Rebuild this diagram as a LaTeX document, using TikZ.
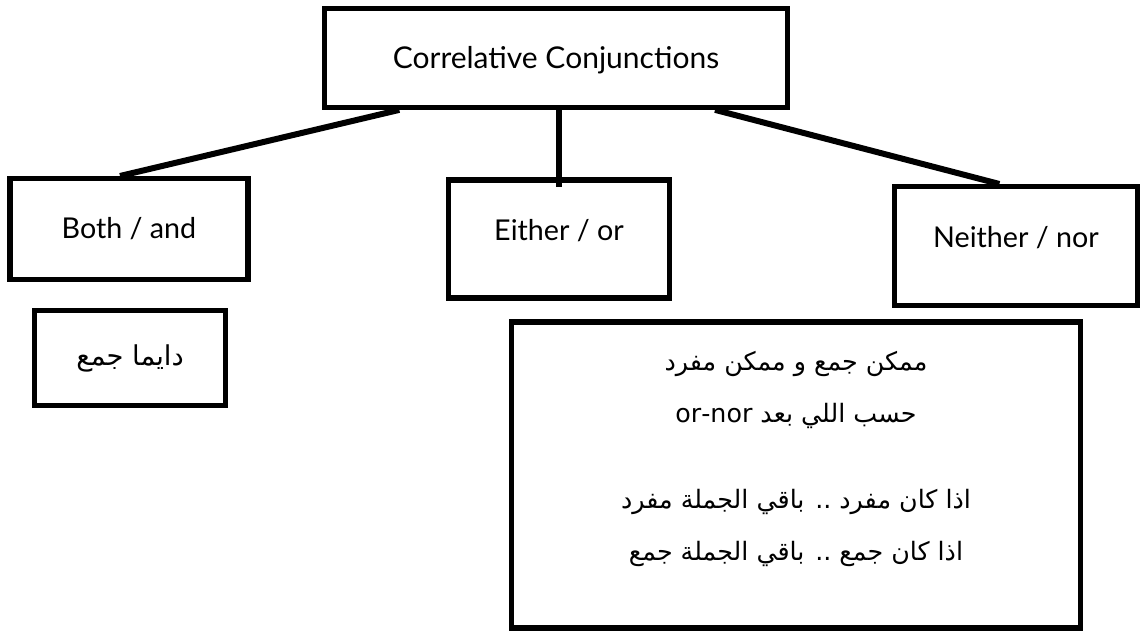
\documentclass[tikz,border=0pt]{standalone}
\usepackage{fontspec}
\setmainfont{Lato}
\newfontfamily\arabicfont[Script=Arabic]{DejaVu Sans}
\TeXXeTstate=1
\usetikzlibrary{calc}
\begin{document}
\begin{tikzpicture}[x=0.75pt,y=-0.75pt,
  box/.style={draw=black, line width=3.8pt, rectangle, inner sep=0pt, align=center, font=\fontsize{21.5}{24}\selectfont},
  conn/.style={line width=4.5pt},
  ar/.style={font=\fontsize{19}{20}\selectfont\arabicfont}]
\useasboundingbox (0,0) rectangle (1143,637);
\node[box, minimum width=347pt, minimum height=74pt, font=\fontsize{22.5}{24}\selectfont] (top) at (556,58) {\raisebox{-2pt}[\height][\depth]{Correlative Conjunctions}};
\node[box, minimum width=178.5pt, minimum height=75.75pt] (both) at (129,229) {Both / and};
\node[box, minimum width=165.75pt, minimum height=88.5pt] (either) at (559,239) {\raisebox{6pt}[\height][\depth]{Either / or}};
\node[box, minimum width=182.25pt, minimum height=89.25pt] (neither) at (1016,246) {\raisebox{6pt}[\height][\depth]{Neither / nor}};
\node[box, minimum width=143.25pt, minimum height=71.25pt, font=\fontsize{20.5}{22}\selectfont\arabicfont] (dayima) at (130,358) {\beginR دايما جمع\endR};
\node[box, minimum width=426.75pt, minimum height=229.5pt] (big) at (796,475) {};
\node[ar, align=center, inner sep=0pt] (bigtxt) at (796,459) {%
  \beginR ممكن جمع و ممكن مفرد\endR\\[19pt]
  \beginR حسب اللي بعد \beginL or-nor\endL\endR\\[45pt]
  \beginR اذا كان مفرد .. باقي الجملة مفرد\endR\\[19pt]
  \beginR اذا كان جمع .. باقي الجملة جمع\endR};
\draw[conn] ($(top.south west)!0.165!(top.south east)$) -- ($(both.north west)!0.463!(both.north east)$);
\draw[conn] ($(top.south west)!0.84!(top.south east)$) -- ($(neither.north west)!0.433!(neither.north east)$);
\coordinate (midend) at ($(either.north)+(0,-7.5pt)$);
\draw[conn] (top.south -| midend) -- (midend);
\end{tikzpicture}
\end{document}
